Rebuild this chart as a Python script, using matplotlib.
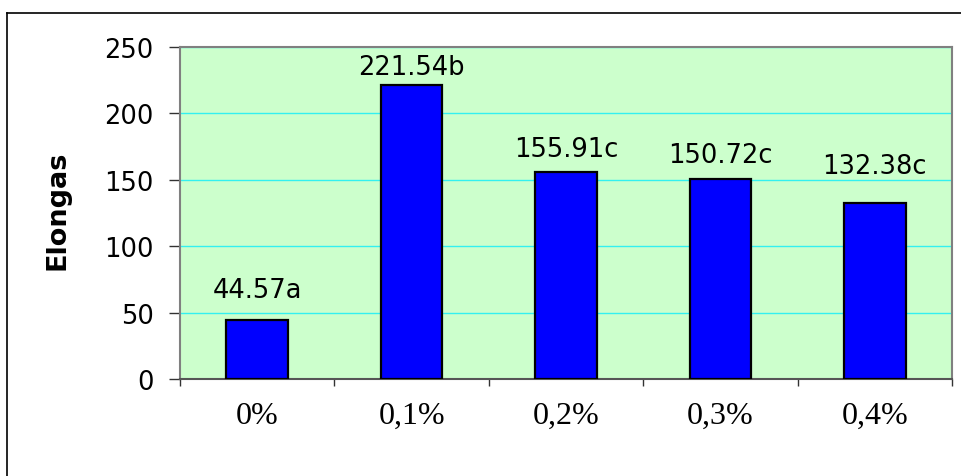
import matplotlib
matplotlib.use("Agg")
import matplotlib.pyplot as plt
from matplotlib.lines import Line2D
import numpy as np

categories = ["0%", "0,1%", "0,2%", "0,3%", "0,4%"]
values = [44.57, 221.54, 155.91, 150.72, 132.38]
letters = ["a", "b", "c", "c", "c"]
yticks = [0, 50, 100, 150, 200, 250]

# label offsets above bar tops (pixels), as placed in the original
label_offsets = [30, 18, 23, 24, 37]

W, H = 962, 477
fig = plt.figure(figsize=(W / 100, H / 100), dpi=100)
fig.patch.set_facecolor("white")

# outer frame (top and left visible)
fig.add_artist(Line2D([7.3 / W, 7.3 / W], [0, 1 - 13.5 / H], transform=fig.transFigure,
                      color="black", lw=1.2))
fig.add_artist(Line2D([7.3 / W, 1], [1 - 13.5 / H, 1 - 13.5 / H], transform=fig.transFigure,
                      color="black", lw=1.2))

ax = fig.add_axes([180 / W, (H - 380) / H, 772 / W, 332 / H])
ax.set_facecolor("#CCFFCC")

x = np.arange(len(categories))
bars = ax.bar(x, values, width=0.4, color="#0000FF", edgecolor="black", linewidth=1.6, zorder=3)

ax.set_xlim(-0.5, len(categories) - 0.5)
ax.set_ylim(0, 250)
ax.set_yticks(yticks)
ax.set_yticklabels([str(t) for t in yticks], fontsize=18.5, family="DejaVu Sans")

ax.set_xticks(np.arange(-0.5, len(categories), 1.0))
ax.set_xticklabels([])
ax.set_xticks(x, minor=True)
ax.set_xticklabels(categories, minor=True, fontsize=23, family="Liberation Serif")
ax.tick_params(axis="x", which="minor", length=0, pad=16)
ax.tick_params(axis="x", which="major", length=5, width=1, color="#333333", direction="out")
ax.tick_params(axis="y", which="major", length=8, width=1, color="#333333", direction="out", pad=11)

ax.yaxis.grid(True, color="#33F0F0", lw=1.0, zorder=1)
ax.set_axisbelow(True)

for s in ["top", "right", "left"]:
    ax.spines[s].set_color("#808080")
    ax.spines[s].set_linewidth(1.5)
ax.spines["bottom"].set_color("#555555")
ax.spines["bottom"].set_linewidth(1.5)

ax.set_ylabel("Elongas", fontsize=19.5, fontweight="bold", family="DejaVu Sans", va="center")
ax.yaxis.set_label_coords(-0.159, 0.51)

for xi, v, l, off in zip(x, values, letters, label_offsets):
    ax.annotate(f"{v:.2f}{l}", xy=(xi, v), xytext=(0, off), textcoords="offset pixels",
                ha="center", va="center", fontsize=18.5, family="DejaVu Sans", zorder=4)

fig.savefig("out.png", dpi=100)
